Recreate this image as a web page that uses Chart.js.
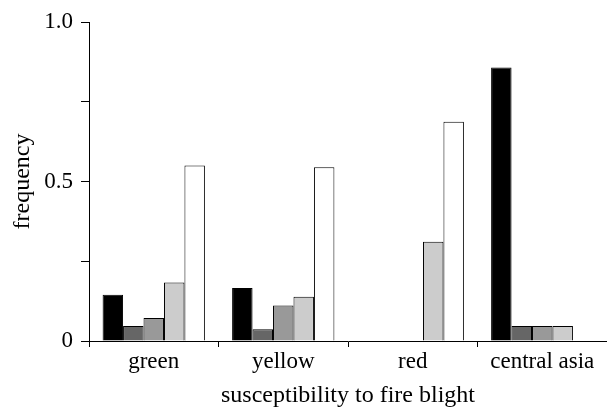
<!DOCTYPE html>
<html>
<head>
<meta charset="utf-8">
<script src="https://cdn.jsdelivr.net/npm/chart.js@4/dist/chart.umd.min.js"></script>
<style>
html,body{margin:0;padding:0;background:#fff;}
#wrap{width:607px;height:410px;position:relative;}
</style>
</head>
<body>
<div id="wrap"><canvas id="c" width="607" height="410"></canvas></div>
<script>
const categories = ['green', 'yellow', 'red', 'central asia'];
const seriesBlack = [0.145, 0.166, 0, 0.857];
const seriesDarkGray = [0.047, 0.037, 0, 0.047];
const seriesMidGray = [0.072, 0.111, 0, 0.047];
const seriesLightGray = [0.183, 0.139, 0.311, 0.047];
const seriesWhite = [0.55, 0.545, 0.687, 0];
const yTickLabels = {0: '0', 0.5: '0.5', 1: '1.0'};

const FONT = "'Liberation Serif', 'Times New Roman', Times, serif";
const series = [
  {data: seriesBlack, color: '#000000'},
  {data: seriesDarkGray, color: '#666666'},
  {data: seriesMidGray, color: '#999999'},
  {data: seriesLightGray, color: '#cccccc'},
  {data: seriesWhite, color: '#ffffff'}
];

new Chart(document.getElementById('c'), {
  type: 'bar',
  data: {
    labels: categories,
    datasets: series.map(s => ({
      data: s.data,
      backgroundColor: s.color,
      borderColor: '#000000',
      borderWidth: 1,
      borderSkipped: 'bottom',
      categoryPercentage: 0.79,
      barPercentage: 1.0
    }))
  },
  options: {
    responsive: false,
    animation: false,
    devicePixelRatio: 1,
    layout: {padding: {top: 22, right: 0, left: 0, bottom: 0}},
    plugins: {legend: {display: false}, tooltip: {enabled: false}},
    scales: {
      x: {
        type: 'category',
        offset: true,
        afterFit: s => { s.height = 69; },
        grid: {
          offset: true,
          drawOnChartArea: false,
          drawTicks: true,
          tickLength: 6,
          color: '#000000',
          lineWidth: 1
        },
        border: {display: true, color: '#000000', width: 1},
        ticks: {
          color: '#000000',
          font: {family: FONT, size: 23},
          padding: 1,
          maxRotation: 0
        },
        title: {
          display: true,
          text: 'susceptibility to fire blight',
          color: '#000000',
          font: {family: FONT, size: 24},
          padding: {top: 1, bottom: 0}
        }
      },
      y: {
        min: 0,
        max: 1,
        afterFit: s => { s.width = 89; },
        grid: {
          drawOnChartArea: false,
          drawTicks: true,
          tickLength: 8,
          color: '#000000',
          lineWidth: 1
        },
        border: {display: true, color: '#000000', width: 1},
        ticks: {
          stepSize: 0.25,
          color: '#000000',
          font: {family: FONT, size: 23},
          padding: 8,
          callback: v => (yTickLabels[v] !== undefined ? yTickLabels[v] : '')
        },
        title: {
          display: true,
          text: 'frequency',
          color: '#000000',
          font: {family: FONT, size: 24},
          padding: {top: 8, bottom: 0}
        }
      }
    }
  }
});
</script>
</body>
</html>
